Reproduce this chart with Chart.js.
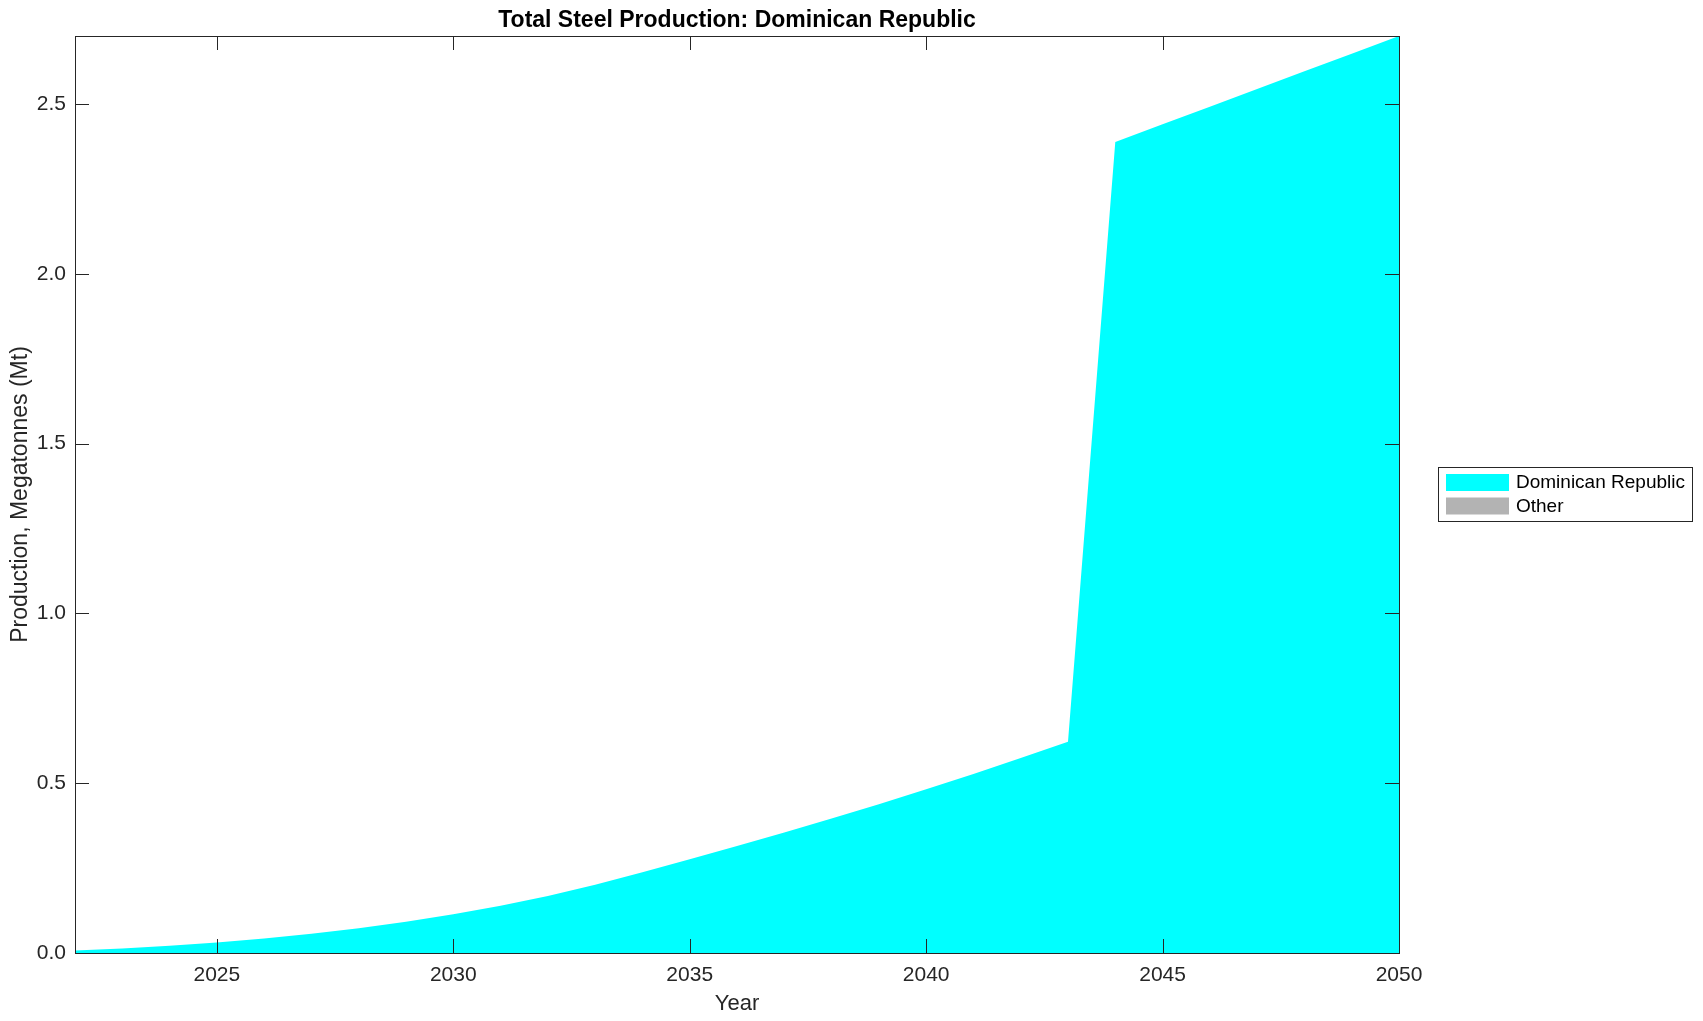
<!DOCTYPE html>
<html>
<head>
<meta charset="utf-8">
<title>Total Steel Production: Dominican Republic</title>
<script src="https://cdn.jsdelivr.net/npm/chart.js@4.4.1/dist/chart.umd.min.js"></script>
<style>
  html, body { margin: 0; padding: 0; background: #ffffff; }
  #wrap { width: 1703px; height: 1021px; }
</style>
</head>
<body>
<div id="wrap"><canvas id="chart" width="1703" height="1021"></canvas></div>
<script>
// values
const years = [2022, 2023, 2024, 2025, 2026, 2027, 2028, 2029, 2030, 2031, 2032, 2033, 2034, 2035,
	2036, 2037, 2038, 2039, 2040, 2041, 2042, 2043, 2044, 2045, 2046, 2047, 2048, 2049, 2050];
const dominican = [0.007, 0.013, 0.021, 0.031, 0.043, 0.057, 0.073, 0.092, 0.114, 0.139, 0.168, 0.201, 0.238, 0.276,
	0.315, 0.355, 0.396, 0.438, 0.482, 0.527, 0.574, 0.622, 2.388, 2.440, 2.492, 2.544, 2.596, 2.648, 2.700];
const other = [0, 0, 0, 0, 0, 0, 0, 0, 0, 0, 0, 0, 0, 0,
	0, 0, 0, 0, 0, 0, 0, 0, 0, 0, 0, 0, 0, 0, 0];
const xTicks = [2025, 2030, 2035, 2040, 2045, 2050];
const yTicks = [0, 0.5, 1.0, 1.5, 2.0, 2.5];

const FONT = '"Liberation Sans", Arial, Helvetica, sans-serif';
const INK = '#262626';

const matlabFrame = {
	id: 'matlabFrame',
	afterDraw(chart) {
		const ctx = chart.ctx;
		const a = chart.chartArea;
		const xs = chart.scales.x;
		const ys = chart.scales.y;
		const tick = 14;

		ctx.save();
		ctx.strokeStyle = INK;
		ctx.lineWidth = 1;

		// box
		ctx.strokeRect(Math.round(a.left) + 0.5, Math.round(a.top) + 0.5,
			Math.round(a.right - a.left), Math.round(a.bottom - a.top));

		// inward ticks on all sides
		ctx.beginPath();
		xTicks.forEach(v => {
			const px = Math.round(xs.getPixelForValue(v)) + 0.5;
			ctx.moveTo(px, a.bottom);
			ctx.lineTo(px, a.bottom - tick);
			ctx.moveTo(px, a.top);
			ctx.lineTo(px, a.top + tick);
		});
		yTicks.forEach(v => {
			const py = Math.round(ys.getPixelForValue(v)) + 0.5;
			ctx.moveTo(a.left, py);
			ctx.lineTo(a.left + tick, py);
			ctx.moveTo(a.right, py);
			ctx.lineTo(a.right - tick, py);
		});
		ctx.stroke();

		const cx = (a.left + a.right) / 2;
		const cy = (a.top + a.bottom) / 2;

		// title
		ctx.fillStyle = '#000000';
		ctx.font = 'bold 23px ' + FONT;
		ctx.textAlign = 'center';
		ctx.textBaseline = 'middle';
		ctx.fillText('Total Steel Production: Dominican Republic', cx, 21);

		// axis titles
		ctx.fillStyle = INK;
		ctx.font = '22px ' + FONT;
		ctx.textBaseline = 'alphabetic';
		ctx.fillText('Year', cx, 1010);

		ctx.font = '23px ' + FONT;
		ctx.save();
		ctx.translate(27, cy);
		ctx.rotate(-Math.PI / 2);
		ctx.fillText('Production, Megatonnes (Mt)', 0, 0);
		ctx.restore();

		// legend
		const lx = 1438.5, ly = 467.5, lw = 254, lh = 54;
		ctx.fillStyle = '#ffffff';
		ctx.fillRect(lx, ly, lw, lh);
		ctx.strokeStyle = INK;
		ctx.strokeRect(lx, ly, lw, lh);
		ctx.font = '19px ' + FONT;
		ctx.textAlign = 'left';
		ctx.textBaseline = 'middle';
		chart.data.datasets.forEach((ds, i) => {
			const rowY = 474 + i * 23.5;
			ctx.fillStyle = ds.backgroundColor;
			ctx.fillRect(1446, rowY, 63, 17);
			ctx.fillStyle = '#000000';
			ctx.fillText(ds.label, 1516, rowY + 9);
		});

		ctx.restore();
	}
};

new Chart(document.getElementById('chart').getContext('2d'), {
	type: 'line',
	data: {
		datasets: [
			{
				label: 'Dominican Republic',
				data: years.map((y, i) => ({ x: y, y: dominican[i] })),
				backgroundColor: '#00ffff',
				borderColor: 'rgba(0,0,0,0)',
				borderWidth: 0,
				pointRadius: 0,
				tension: 0,
				fill: 'origin'
			},
			{
				label: 'Other',
				data: years.map((y, i) => ({ x: y, y: dominican[i] + other[i] })),
				backgroundColor: '#b3b3b3',
				borderColor: 'rgba(0,0,0,0)',
				borderWidth: 0,
				pointRadius: 0,
				tension: 0,
				fill: '-1'
			}
		]
	},
	options: {
		responsive: false,
		animation: false,
		devicePixelRatio: 1,
		layout: { padding: { left: 0, top: 36, right: 304, bottom: 0 } },
		plugins: {
			legend: { display: false },
			title: { display: false },
			tooltip: { enabled: false }
		},
		scales: {
			x: {
				type: 'linear',
				min: 2022,
				max: 2050,
				grid: { display: false, drawTicks: false },
				border: { display: false },
				afterBuildTicks: s => { s.ticks = xTicks.map(v => ({ value: v })); },
				afterFit: s => { s.height = 68; },
				ticks: {
					padding: 10,
					maxRotation: 0,
					color: INK,
					font: { family: FONT, size: 21 },
					callback: v => String(v)
				}
			},
			y: {
				min: 0,
				max: 2.7,
				grid: { display: false, drawTicks: false },
				border: { display: false },
				afterBuildTicks: s => { s.ticks = yTicks.map(v => ({ value: v })); },
				afterFit: s => { s.width = 75; },
				ticks: {
					padding: 9,
					color: INK,
					font: { family: FONT, size: 21 },
					callback: v => v.toFixed(1)
				}
			}
		}
	},
	plugins: [matlabFrame]
});
</script>
</body>
</html>
